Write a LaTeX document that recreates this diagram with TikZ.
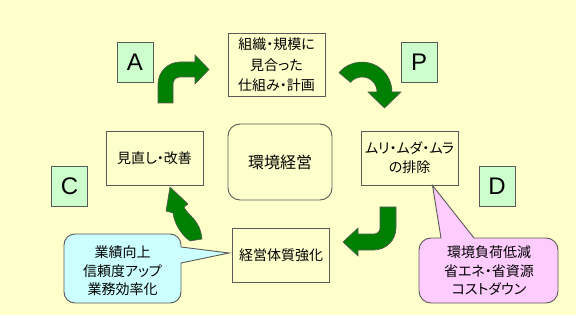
\documentclass[tikz,border=0pt]{standalone}
\usepackage{fontspec}
\usepackage{xcolor}
\usetikzlibrary{calc}
\newfontfamily\jpfont[RawFeature={+palt}]{Noto Sans CJK JP}
\newfontfamily\latfont{Liberation Sans}
\definecolor{bgyellow}{HTML}{FFFFCC}
\definecolor{boxline}{HTML}{5A5A5A}
\definecolor{letgreen}{HTML}{CCFFCC}
\definecolor{arrowgreen}{HTML}{008000}
\definecolor{tipblue}{HTML}{CCFFFF}
\definecolor{tippink}{HTML}{FFCCFF}

\begin{document}
\begin{tikzpicture}[x=1pt,y=-1pt,
    textbox/.style={draw=boxline, line width=0.9pt, fill=bgyellow, minimum width=97pt, minimum height=54pt, inner sep=0pt, align=center, font=\jpfont\fontsize{14}{19}\selectfont},
    letterbox/.style={draw=boxline, line width=0.9pt, fill=letgreen, minimum width=36pt, minimum height=40pt, inner sep=0pt, font=\latfont\fontsize{24}{24}\selectfont},
    garrow/.style={draw=boxline, line width=0.6pt, fill=arrowgreen},
    callout/.style={draw=boxline, line width=0.9pt},
    callouttext/.style={align=center, inner sep=0pt, font=\jpfont\fontsize{14}{18.5}\selectfont}]
            % Background
            \useasboundingbox (0,0) rectangle (576,318);
            \fill[bgyellow] (0,0) rectangle (576,318);
            \fill[white] (0,315) rectangle (576,318);

            % Cycle boxes
            \node[textbox, minimum height=63pt, font=\jpfont\fontsize{14}{20.5}\selectfont] (shikumi) at (276.5,65) {組織・規模に\\見合った\\仕組み・計画};
            \node[textbox] (minaoshi) at (154.5,158) {見直し・改善};
            \node[textbox] (haijo) at (409.5,158) {ムリ・ムダ・ムラ\\の排除};
            \node[textbox] (kyoka) at (281,255) {経営体質強化};

            % Centre box
            \node[textbox, rounded corners=12pt, minimum width=104pt, minimum height=76pt, font=\jpfont\fontsize{16}{16}\selectfont] (kankyo) at (280,162) {環境経営};

            % PDCA letters
            \node[letterbox] (kA) at (135,62) {A};
            \node[letterbox] (kP) at (419,62) {P};
            \node[letterbox] (kC) at (69.5,186) {C};
            \node[letterbox] (kD) at (497,186) {D};

            % Green block arrows
            \draw[garrow] (158,103) -- (158,84) arc[start angle=180, end angle=270, radius=22] -- (195,62) -- (195,55) -- (209,69.5) -- (195,84) -- (195,77) -- (180,77) arc[start angle=270, end angle=180, radius=7] -- (173,103) -- cycle;
            \draw[garrow] (339,72.7) arc[start angle=220, end angle=360, radius=30] -- (401,92) -- (384.5,108) -- (368,92) -- (377,92) arc[start angle=360, end angle=220, radius=15] -- cycle;
            \draw[garrow] (380,207) -- (396,207) -- (396,228) arc[start angle=0, end angle=90, radius=22] -- (358,250) -- (358,256) -- (343,242) -- (358,228) -- (358,234) -- (374,234) arc[start angle=90, end angle=0, radius=6] -- cycle;
            \draw[garrow] (170,187) -- (188,204) -- (184,207) .. controls (188,216) and (200,219) .. (202,239) -- (190,241) .. controls (180,234) and (174,222) .. (173,213) -- (166,211) -- cycle;

            % Callouts
            \coordinate (tipL) at ($(kyoka.west)+(-3,-2)$);
            \coordinate (tipR) at ($(haijo.south)+(23,0)$);
            \draw[callout, fill=tipblue] (75,234) -- (170,234) arc[start angle=270, end angle=360, radius=11] -- (181,247) -- (tipL) -- (181,263) -- (181,292) arc[start angle=0, end angle=90, radius=11] -- (75,303) arc[start angle=90, end angle=180, radius=11] -- (64,245) arc[start angle=180, end angle=270, radius=11] -- cycle;
            \draw[callout, fill=tippink] (431,238) -- (441,238) -- (tipR) -- (474,238) -- (546,238) arc[start angle=270, end angle=360, radius=12] -- (558,291) arc[start angle=0, end angle=90, radius=12] -- (431,303) arc[start angle=90, end angle=180, radius=12] -- (419,250) arc[start angle=180, end angle=270, radius=12] -- cycle;
            \node[callouttext] (merit) at (122.5,271) {業績向上\\信頼度アップ\\業務効率化};
            \node[callouttext] (kankyof) at (489,271) {環境負荷低減\\省エネ・省資源\\コストダウン};
        \end{tikzpicture}
\end{document}
